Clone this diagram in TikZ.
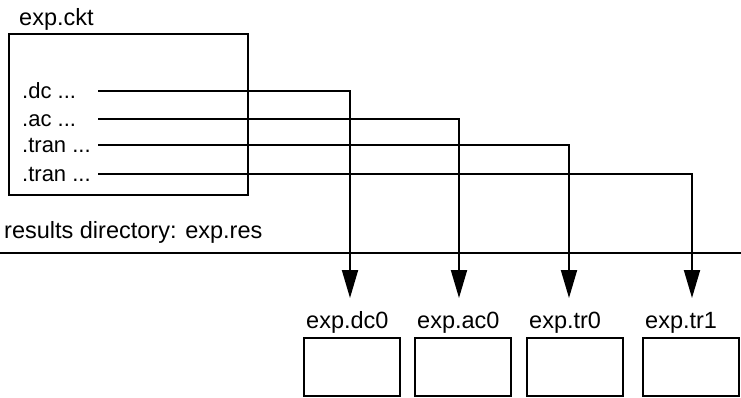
\documentclass[tikz,border=0pt]{standalone}
\usepackage{fontspec}
\setmainfont{Liberation Sans}
\usetikzlibrary{arrows.meta}
\newcommand{\more}{...}
\tikzset{
  wire/.style={draw, line width=1.9pt},
  feed/.style={wire, -{Triangle[length=28pt,width=16pt]}},
  deckbox/.style={draw, line width=1.9pt, anchor=north west, inner sep=0pt, minimum width=239pt, minimum height=161pt},
  filebox/.style={draw, line width=1.9pt, anchor=north west, inner sep=0pt, minimum width=96pt, minimum height=58pt},
  fname/.style={anchor=base west, inner sep=0pt, font=\fontsize{23.5}{28}\selectfont},
  cmd/.style={anchor=base west, inner sep=0pt, font=\fontsize{22}{26}\selectfont},
}

\begin{document}
\begin{tikzpicture}[x=1pt,y=-1pt]
\useasboundingbox (0,0) rectangle (741,397);
% input deck
\node[fname] (ckt) at (19,25) {exp.ckt};
\node[deckbox] (deck) at (8,33) {};
\foreach \name/\txt/\y/\x in {dc/.dc/91/350, ac/.ac/119/459, tr0/.tran/145/569, tr1/.tran/174/692} {
  \node[cmd] (cmd-\name) at (22,\y+7) {\txt\ \more};
  \coordinate (from-\name) at (98,\y);
  \coordinate (tip-\name) at (\x,298);
  \draw[feed] (from-\name) -| (tip-\name);
}
% results directory
\node[fname] (resdir) at (4,238) {results directory: exp.res};
\coordinate (rule-w) at (0,253);
\coordinate (rule-e) at (741,253);
\draw[wire] (rule-w) -- (rule-e);
\foreach \name/\x in {dc0/303, ac0/414, tr0/526, tr1/642} {
  \node[filebox] (box-\name) at (\x,337) {};
  \node[fname] (name-\name) at ([xshift=3pt,yshift=9pt]box-\name.north west) {exp.\name};
}
\end{tikzpicture}
\end{document}
